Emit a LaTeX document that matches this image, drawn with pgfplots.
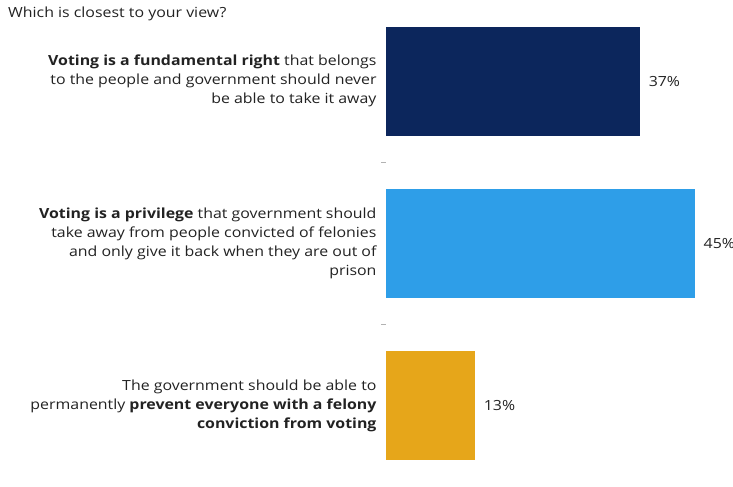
\documentclass[border=0pt]{standalone}
\usepackage{pgfplots}
\pgfplotsset{compat=1.18}
\usepackage{fontspec}
\setmainfont{Open Sans}[FakeStretch=1.14]
\definecolor{navy}{HTML}{0C265C}
\definecolor{skyb}{HTML}{2E9EE8}
\definecolor{gold}{HTML}{E6A61A}
\definecolor{txt}{HTML}{222222}
\begin{document}
\begin{tikzpicture}
\useasboundingbox (0,0) rectangle (733bp,487bp);
\begin{axis}[
  at={(386bp,0bp)}, anchor=south west,
  scale only axis, width=347bp, height=487bp,
  xmin=0, xmax=50.5, ymin=-0.5, ymax=2.5,
  y dir=reverse, clip=false,
  xbar, bar width=0.672, bar shift=0pt,
  axis x line=none,
  axis y line=left,
  y axis line style={draw=none},
  ytick={0,1,2},
  major tick length=0pt,
  minor ytick={0.5,1.5,2.5},
  minor tick length=5bp,
  tick align=outside,
  minor tick style={gray!60, line width=0.6pt},
  /pgf/number format/assume math mode=true,
  yticklabels={
    {\textbf{Voting is a fundamental right} that belongs\\to the people and government should never\\be able to take it away},
    {\textbf{Voting is a privilege} that government should\\take away from people convicted of felonies\\and only give it back when they are out of\\prison},
    {The government should be able to\\permanently \textbf{prevent everyone with a felony}\\\textbf{conviction from voting}}},
  yticklabel style={align=right, font=\fontsize{14}{19}\selectfont, text=txt, anchor=east, xshift=-6bp},
  nodes near coords={\pgfmathprintnumber{\pgfplotspointmeta}\%},
  point meta=x,
  nodes near coords style={font=\fontsize{14}{16}\selectfont, text=txt, anchor=west, xshift=5bp},
]
\addplot[fill=navy, draw=none] coordinates {(37,0)};
\addplot[fill=skyb, draw=none] coordinates {(45,1)};
\addplot[fill=gold, draw=none] coordinates {(13,2)};
\end{axis}
\node[anchor=base west, font=\fontsize{14}{16}\selectfont, text=txt, inner sep=0pt] at (8bp,469bp) {Which is closest to your view?};
\end{tikzpicture}
\end{document}
